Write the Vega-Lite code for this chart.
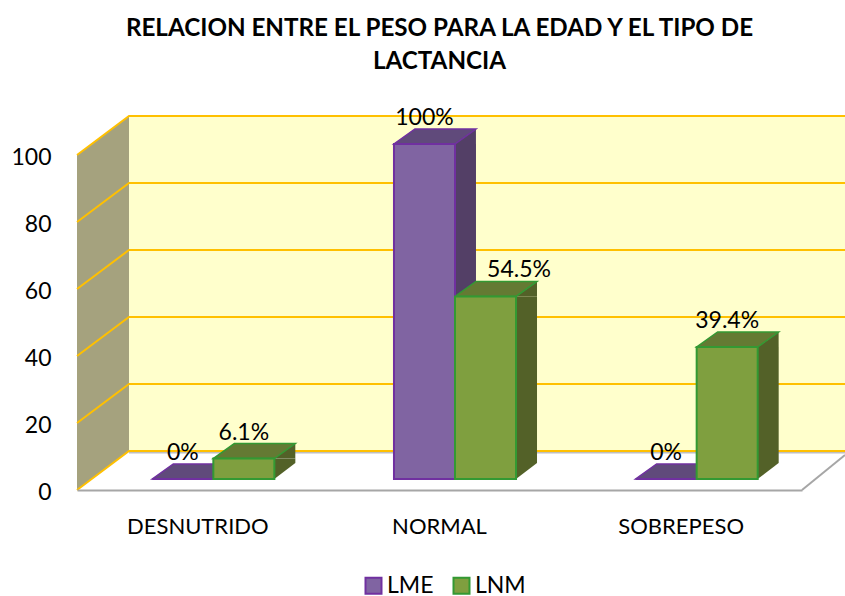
{
"$schema":"https://vega.github.io/schema/vega-lite/v6.json",
"width":725,"height":335,
"autosize":"none",
"padding":{"left":77,"top":155,"right":43,"bottom":106},
"background":"white",
"config":{"view":{"stroke":null},"font":"Lato"},
"title":{"text":["RELACION ENTRE EL PESO PARA LA EDAD Y EL TIPO DE","LACTANCIA"],"font":"Lato","fontSize":24.2,"fontWeight":"bold","lineHeight":33,"color":"#000000","anchor":"middle","offset":33},
"datasets":{
"bars":[
{"cat":"DESNUTRIDO","series":"LME","value":0,"label":"0%"},
{"cat":"NORMAL","series":"LME","value":100,"label":"100%"},
{"cat":"SOBREPESO","series":"LME","value":0,"label":"0%"},
{"cat":"DESNUTRIDO","series":"LNM","value":6.1,"label":"6.1%"},
{"cat":"NORMAL","series":"LNM","value":54.5,"label":"54.5%"},
{"cat":"SOBREPESO","series":"LNM","value":39.4,"label":"39.4%"}
],
"ticks":[{"t":0},{"t":20},{"t":40},{"t":60},{"t":80},{"t":100}],
"one":[{"t":0}]
},
"data":{"name":"bars"},
"resolve":{"scale":{"xOffset":"independent"}},
"encoding":{
"x":{"field":"cat","type":"nominal","sort":["DESNUTRIDO","NORMAL","SOBREPESO"],"scale":{"paddingInner":0,"paddingOuter":0},
"axis":{"title":null,"labelAngle":0,"labelFontSize":22,"labelFont":"Lato","labelColor":"#000000","labelPadding":26,"ticks":false,"domainColor":"#A6A6A6","domainWidth":2,"zindex":1}},
"y":{"type":"quantitative","scale":{"domain":[0,100],"nice":false},
"axis":{"title":null,"values":[0,20,40,60,80,100],"grid":false,"ticks":false,"domain":false,"labelFontSize":23,"labelFont":"Lato","labelColor":"#000000","labelPadding":26,"labelOffset":2}}
},
"layer":[
{"data":{"name":"one"},"mark":{"type":"point","filled":true,"fill":"#FFFFCC","opacity":1,"size":40000,"shape":"M0.52,-0.39L8,-0.39L8,-3.74L0.52,-3.74Z"},
 "encoding":{"x":{"datum":"DESNUTRIDO","bandPosition":0},"y":{"field":"t","type":"quantitative"}}},
{"data":{"name":"one"},"mark":{"type":"point","filled":true,"fill":"#A5A27E","opacity":1,"size":40000,"shape":"M0,0L0.52,-0.39L0.52,-3.74L0,-3.35Z"},
 "encoding":{"x":{"datum":"DESNUTRIDO","bandPosition":0},"y":{"field":"t","type":"quantitative"}}},
{"data":{"name":"one"},"mark":{"type":"point","filled":false,"stroke":"#BFBFBF","strokeWidth":3,"opacity":1,"size":40000,"shape":"M0.52,-0.38L8,-0.38"},
 "encoding":{"x":{"datum":"DESNUTRIDO","bandPosition":0},"y":{"field":"t","type":"quantitative"}}},
{"data":{"name":"ticks"},"mark":{"type":"point","filled":false,"stroke":"#FFC000","strokeWidth":2,"opacity":1,"size":40000,"shape":"M0,0L0.52,-0.39L8,-0.39"},
 "encoding":{"x":{"datum":"DESNUTRIDO","bandPosition":0},"y":{"field":"t","type":"quantitative"}}},
{"data":{"name":"one"},"mark":{"type":"point","filled":false,"stroke":"#A6A6A6","strokeWidth":2,"opacity":1,"size":40000,"shape":"M0,0L0.43,-0.35"},
 "encoding":{"x":{"datum":"SOBREPESO","bandPosition":1},"y":{"field":"t","type":"quantitative"}}},
{"transform":[{"filter":"datum.value>=5"}],
 "mark":{"type":"bar","width":21,"yOffset":-11,"y2Offset":-27},
 "encoding":{"xOffset":{"field":"series","scale":{"paddingOuter":0.98,"paddingInner":0,"range":[56.5,298.17]}},"y":{"field":"value","type":"quantitative"},"y2":{"datum":0},
 "fill":{"condition":{"test":"datum.series==='LME'","value":"#533F66"},"value":"#536128"}}},
{"transform":[{"filter":"datum.value>=5"}],
 "mark":{"type":"point","filled":true,"opacity":1,"size":10000,"yOffset":-11,"shape":"M0.61,0L1.03,-0.32L0.61,-0.32Z"},
 "encoding":{"xOffset":{"field":"series","scale":{"type":"point","padding":0.98,"range":[46,226.6]}},"y":{"datum":0},
 "fill":{"condition":{"test":"datum.series==='LME'","value":"#533F66"},"value":"#536128"}}},
{"transform":[{"filter":"datum.value>=5"}],
 "mark":{"type":"point","filled":true,"opacity":1,"size":10000,"yOffset":-11,"shape":"M0.61,0L1.03,-0.3L1.03,0Z"},
 "encoding":{"xOffset":{"field":"series","scale":{"type":"point","padding":0.98,"range":[46,226.6]}},"y":{"field":"value","type":"quantitative"},
 "fill":{"condition":{"test":"datum.series==='LME'","value":"#533F66"},"value":"#536128"}}},
{"mark":{"type":"point","filled":true,"opacity":1,"size":10000,"yOffset":-11,"strokeWidth":1.5,"shape":"M-0.61,0L0.61,0L1.03,-0.3L-0.19,-0.3Z"},
 "encoding":{"xOffset":{"field":"series","scale":{"type":"point","padding":0.98,"range":[46,226.6]}},"y":{"field":"value","type":"quantitative"},
 "fill":{"condition":{"test":"datum.series==='LME'","value":"#604A7B"},"value":"#647A33"},
 "stroke":{"condition":{"test":"datum.series==='LME'","value":"#7030A0"},"value":"#339933"}}},
{"mark":{"type":"bar","yOffset":-11,"y2Offset":-11,"strokeWidth":2},
 "encoding":{"xOffset":{"field":"series","scale":{"paddingOuter":0.98,"paddingInner":0,"range":[15.5,257.17]}},"y":{"field":"value","type":"quantitative"},"y2":{"datum":0},
 "fill":{"field":"series","type":"nominal","scale":{"domain":["LME","LNM"],"range":["#8064A2","#7F9F3F"]},
  "legend":{"title":null,"orient":"none","legendX":285,"legendY":419,"direction":"horizontal","symbolType":"square","symbolSize":256,"symbolStrokeWidth":2,"labelFontSize":23,"labelFont":"Lato","labelColor":"#000000","columnPadding":15,"labelOffset":2}},
 "stroke":{"field":"series","type":"nominal","scale":{"domain":["LME","LNM"],"range":["#7030A0","#339933"]}}}},
{"transform":[{"filter":"datum.label!=='54.5%'"}],
 "mark":{"type":"text","font":"Lato","fontSize":23,"color":"#000000","baseline":"middle","yOffset":-37},
 "encoding":{"xOffset":{"field":"series","scale":{"type":"point","padding":0.98,"range":[46,226.6]}},"y":{"field":"value","type":"quantitative"},"text":{"field":"label"}}},
{"transform":[{"filter":"datum.label==='54.5%'"}],
 "mark":{"type":"text","font":"Lato","fontSize":23,"color":"#000000","baseline":"middle","yOffset":-37},
 "encoding":{"x":{"field":"cat","type":"nominal","bandPosition":0.829},"y":{"field":"value","type":"quantitative"},"text":{"field":"label"}}}
]
}
